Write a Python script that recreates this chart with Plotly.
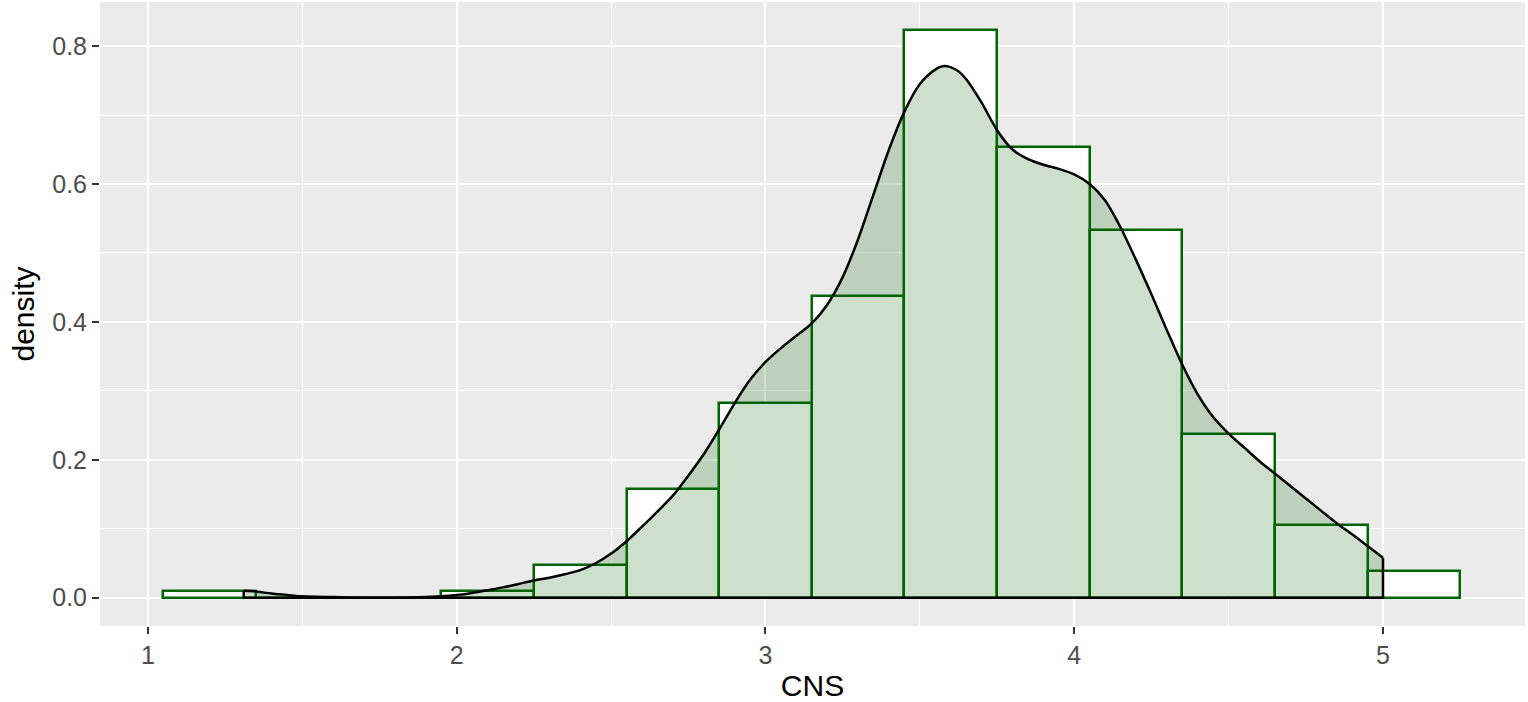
import plotly.graph_objects as go

# histogram of CNS (binwidth 0.3), density scale
bin_centers = [1.2, 1.5, 1.8, 2.1, 2.4, 2.7, 3.0, 3.3, 3.6, 3.9, 4.2, 4.5, 4.8, 5.1]
bin_heights = [0.010, 0.0, 0.0, 0.010, 0.048, 0.158, 0.282, 0.438, 0.823, 0.653, 0.533, 0.238, 0.106, 0.039]
bin_width = 0.3

# kernel density estimate
dens_x = [1.31, 1.35, 1.40, 1.45, 1.50, 1.60, 1.70, 1.80, 1.90, 1.95, 2.00, 2.05, 2.10, 2.15, 2.20,
          2.25, 2.30, 2.35, 2.40, 2.45, 2.50, 2.55, 2.60, 2.65, 2.70, 2.75, 2.80, 2.85, 2.90, 2.95,
          3.00, 3.05, 3.10, 3.15, 3.20, 3.25, 3.30, 3.35, 3.40, 3.45, 3.50, 3.55, 3.58, 3.62, 3.65,
          3.70, 3.75, 3.80, 3.85, 3.90, 3.95, 4.00, 4.05, 4.10, 4.15, 4.20, 4.25, 4.30, 4.35, 4.40,
          4.45, 4.50, 4.55, 4.60, 4.65, 4.70, 4.75, 4.80, 4.85, 4.90, 4.95, 5.00]
dens_y = [0.010, 0.009, 0.006, 0.004, 0.002, 0.001, 0.000, 0.000, 0.001, 0.002, 0.004, 0.007, 0.011,
          0.015, 0.020, 0.025, 0.029, 0.034, 0.040, 0.050, 0.064, 0.082, 0.103, 0.125, 0.148, 0.177,
          0.208, 0.244, 0.282, 0.316, 0.342, 0.362, 0.380, 0.398, 0.425, 0.465, 0.520, 0.585, 0.650,
          0.705, 0.745, 0.766, 0.771, 0.765, 0.752, 0.718, 0.678, 0.650, 0.636, 0.628, 0.622, 0.614,
          0.600, 0.576, 0.537, 0.490, 0.440, 0.388, 0.338, 0.295, 0.262, 0.238, 0.218, 0.198, 0.180,
          0.162, 0.144, 0.126, 0.108, 0.092, 0.075, 0.058]

fig = go.Figure()

fig.add_trace(go.Bar(x=bin_centers, y=bin_heights, width=bin_width,
                     marker=dict(color='white', line=dict(color='#006400', width=2.5)),
                     showlegend=False, hoverinfo='skip'))

# filled density area, smooth curve
fig.add_trace(go.Scatter(x=dens_x, y=dens_y, mode='lines', fill='tozeroy',
                         fillcolor='rgba(0,100,0,0.2)',
                         line=dict(color='black', width=2.5, shape='spline', smoothing=0.8),
                         showlegend=False, hoverinfo='skip'))
# closing edges and baseline of the density polygon
fig.add_trace(go.Scatter(x=[dens_x[0], dens_x[0], dens_x[-1], dens_x[-1]],
                         y=[dens_y[0], 0, 0, dens_y[-1]], mode='lines',
                         line=dict(color='black', width=2.5),
                         showlegend=False, hoverinfo='skip'))

axis_common = dict(showgrid=True, gridcolor='white', gridwidth=2, zeroline=False,
                   ticks='outside', ticklen=7, tickwidth=2, tickcolor='#333333',
                   tickfont=dict(color='#4D4D4D', size=25), showline=False, automargin=False)

fig.update_layout(
    width=1528, height=702,
    margin=dict(l=100, r=3, t=2, b=76),
    plot_bgcolor='#EBEBEB', paper_bgcolor='white',
    font=dict(family='Liberation Sans, Arial, sans-serif', color='black'),
    bargap=0,
    xaxis=dict(range=[0.8445, 5.46], tick0=1, dtick=1,
               minor=dict(dtick=0.5, showgrid=True, gridcolor='white', gridwidth=1, ticks=''),
               title=dict(text='CNS', font=dict(size=30, color='black'), standoff=6),
               **axis_common),
    yaxis=dict(range=[-0.041, 0.864], tick0=0, dtick=0.2, tickformat='.1f',
               minor=dict(dtick=0.1, showgrid=True, gridcolor='white', gridwidth=1, ticks=''),
               title=dict(text='density', font=dict(size=30, color='black'), standoff=8),
               **axis_common),
)

fig.write_html("out.html", config={'displayModeBar': False},
               post_script="document.body.style.margin='0';")
